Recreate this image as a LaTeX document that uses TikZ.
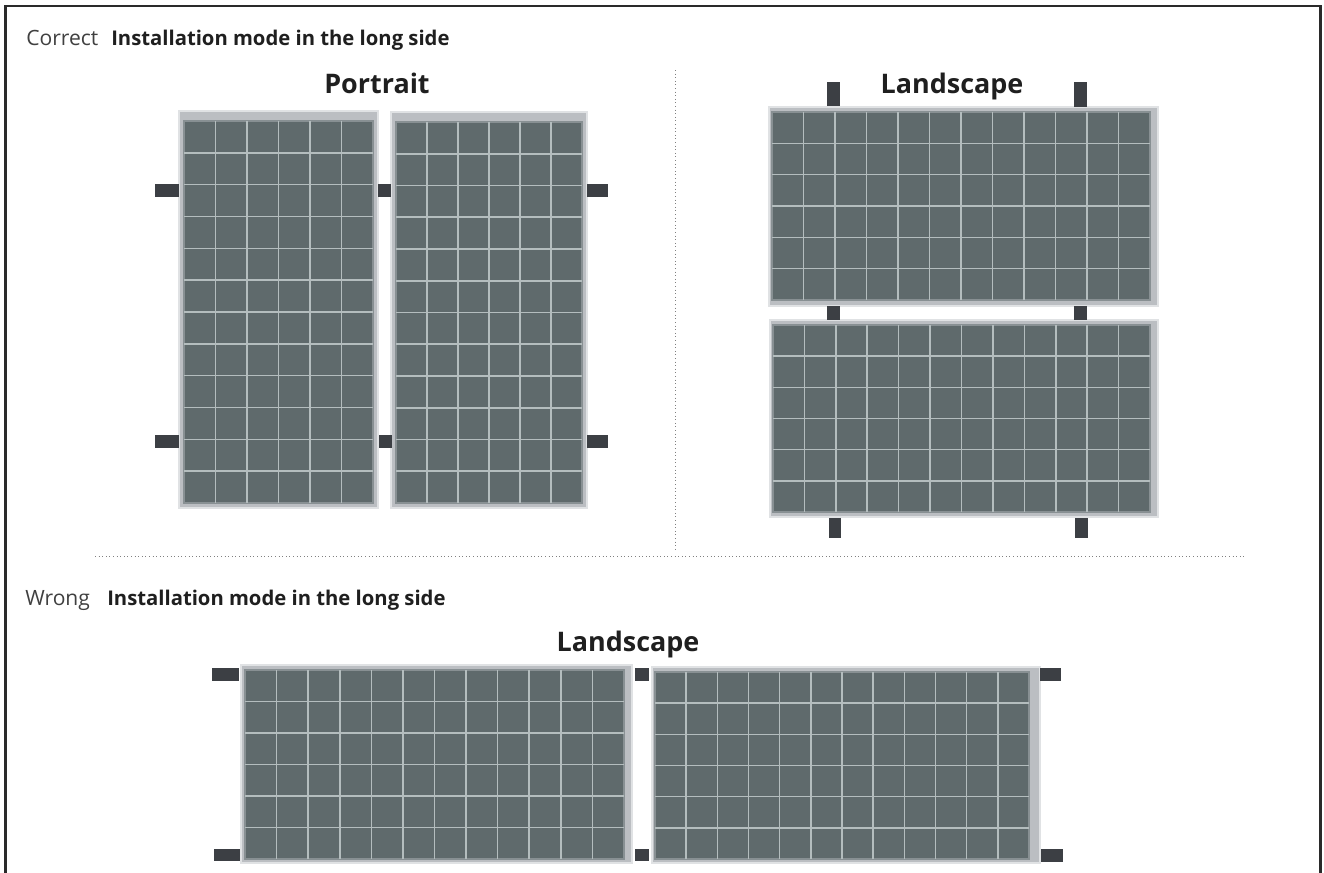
\documentclass[tikz,border=0pt]{standalone}
\usepackage{fontspec}
\setmainfont{Open Sans}
\usetikzlibrary{calc}
\definecolor{cellc}{HTML}{5F6A6C}
\definecolor{framec}{HTML}{BBBEC2}
\definecolor{gridc}{HTML}{B4BDBE}
\definecolor{clampc}{HTML}{3C3F44}
\definecolor{borderc}{HTML}{2A2A2A}
\tikzset{
  framebox/.style={fill=framec,draw=framec!45,line width=1.4pt},
  cellbox/.style={fill=cellc,draw=cellc!55!framec,line width=0.8pt},
  gridline/.style={draw=gridc,line width=1.2pt},
  clampbox/.style={fill=clampc,draw=none},
  divider/.style={draw=black!50,line width=0.7pt,dotted},
  smalltxt/.style={anchor=base west,inner sep=0pt,font=\fontsize{15.2}{18}\selectfont\bfseries,text=black!88},
  statetxt/.style={anchor=base west,inner sep=0pt,font=\fontsize{15.8}{18}\selectfont,text=black!75},
  headtxt/.style={anchor=base,inner sep=0pt,font=\fontsize{20.2}{24}\selectfont\bfseries,text=black!88}
}
\newcommand{\solarpanel}[6]{%
  \path[framebox] (#1) rectangle (#2);
  \path[cellbox] (#3) rectangle (#4);
  \path (#3) coordinate (pa) (#4) coordinate (pb);
  \foreach \i in {1,...,\numexpr#5-1\relax}
    \draw[gridline] ($(pa)!{\i/#5}!(pb|-pa)$) -- ($(pa|-pb)!{\i/#5}!(pb)$);
  \foreach \j in {1,...,\numexpr#6-1\relax}
    \draw[gridline] ($(pa)!{\j/#6}!(pa|-pb)$) -- ($(pb|-pa)!{\j/#6}!(pb)$);
}
\begin{document}
\begin{tikzpicture}[x=0.75pt,y=-0.75pt]
\useasboundingbox (0,0) rectangle (1324,872);
\fill[white] (0,0) rectangle (1324,872);
% page frame
\draw[borderc,line width=1.7pt] (5.5,873) -- (5.5,6) -- (1320.5,6) -- (1320.5,873);
% dividers
\coordinate (vt) at (675,70); \coordinate (vb) at (675,552);
\coordinate (hl) at (95,556); \coordinate (hr) at (1245,556);
\draw[divider] (vt) -- (vb);
\draw[divider] (hl) -- (hr);
% text
\node[statetxt] (c1) at (26,45) {Correct};
\node[smalltxt] (c2) at (111,45) {Installation mode in the long side};
\node[statetxt] (w1) at (25,605) {Wrong};
\node[smalltxt] (w2) at (107,605) {Installation mode in the long side};
\node[headtxt] (h1) at (377,93) {Portrait};
\node[headtxt] (h2) at (952,93) {Landscape};
\node[headtxt] (h3) at (628,651) {Landscape};
% panels
\solarpanel{179,111}{378,508}{184,121}{373,503}{6}{12}
\solarpanel{391,112}{587,508}{396,122}{582,503}{6}{12}
\solarpanel{769,107}{1158,306}{772,112}{1150,300}{12}{6}
\solarpanel{770,320}{1158,517}{773,325}{1150,512}{12}{6}
\solarpanel{241,665}{632,863}{245,670}{624,859}{12}{6}
\solarpanel{652,667}{1040,863}{655,672}{1029,859}{12}{6}
% clamps
\fill[clampbox] (155,184) rectangle (179,197);
\fill[clampbox] (155,435) rectangle (179,448);
\fill[clampbox] (378,184) rectangle (391,197);
\fill[clampbox] (379,435) rectangle (392,448);
\fill[clampbox] (587,184) rectangle (608,197);
\fill[clampbox] (587,435) rectangle (608,448);
\fill[clampbox] (827,82) rectangle (840,106);
\fill[clampbox] (1074,82) rectangle (1087,107);
\fill[clampbox] (827,306) rectangle (840,320);
\fill[clampbox] (1074,306) rectangle (1087,320);
\fill[clampbox] (829,518) rectangle (841,538);
\fill[clampbox] (1075,518) rectangle (1088,538);
\fill[clampbox] (212,668) rectangle (239,681);
\fill[clampbox] (214,849) rectangle (240,861);
\fill[clampbox] (635,668) rectangle (649,681);
\fill[clampbox] (635,849) rectangle (649,861);
\fill[clampbox] (1040,668) rectangle (1061,681);
\fill[clampbox] (1041,849) rectangle (1063,862);
\end{tikzpicture}
\end{document}
